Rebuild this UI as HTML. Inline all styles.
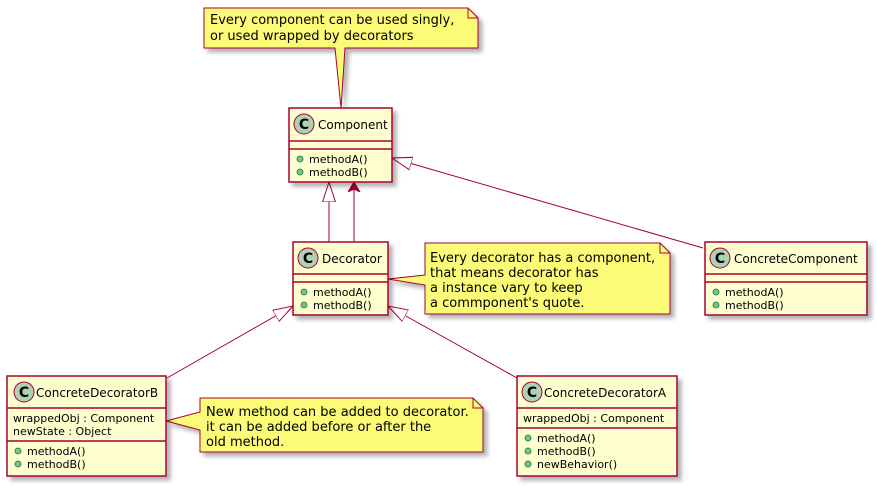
<!DOCTYPE html>
<html><head><meta charset="utf-8"><style>
html,body{margin:0;padding:0;background:#fff;}
svg{display:block;font-family:"DejaVu Sans","Liberation Sans",sans-serif;}
.n{font-size:12px;fill:#000}
.m{font-size:11px;fill:#000}
.t{font-size:13px;fill:#000}
</style></head><body>
<svg width="877" height="486" viewBox="0 0 877 486" xmlns="http://www.w3.org/2000/svg">
<defs>
<filter id="sh" x="-10%" y="-10%" width="130%" height="130%"><feGaussianBlur in="SourceAlpha" stdDeviation="2"/><feOffset dx="4" dy="4"/><feComponentTransfer><feFuncA type="linear" slope="0.3"/></feComponentTransfer><feMerge><feMergeNode/><feMergeNode in="SourceGraphic"/></feMerge></filter>
<marker id="tri" markerUnits="userSpaceOnUse" markerWidth="22" markerHeight="16" refX="20" refY="7" orient="auto"><path d="M0,0.5 L20,7 L0,13.5 Z" fill="#fff" stroke="#A80036" stroke-width="1"/></marker>
<marker id="arr" markerUnits="userSpaceOnUse" markerWidth="12" markerHeight="14" refX="10" refY="6" orient="auto"><path d="M0,0 L10,6 L0,12 L3,6 Z" fill="#A80036" stroke="#A80036"/></marker>
</defs>
<g stroke="#A80036" fill="none" stroke-width="1">
<line x1="329" y1="242" x2="329" y2="182" marker-end="url(#tri)"/>
<line x1="354" y1="242" x2="354" y2="182" marker-end="url(#arr)"/>
<line x1="703" y1="248" x2="392" y2="158" marker-end="url(#tri)"/>
<line x1="167" y1="378" x2="293" y2="306" marker-end="url(#tri)"/>
<line x1="517" y1="378" x2="388" y2="306" marker-end="url(#tri)"/>
</g>
<!-- notes -->
<g fill="#FBFB77" stroke="#A80036" stroke-width="1" filter="url(#sh)">
<path d="M204,8 L468,8 L478,18 L478,48 L345,48 L341,108 L335,48 L204,48 Z"/>
<path d="M425,243 L660,243 L670,253 L670,314 L425,314 L425,285 L388,279 L425,275 Z"/>
<path d="M200,398 L473,398 L483,408 L483,452 L200,452 L200,430 L166,421 L200,412 Z"/>
</g>
<g fill="none" stroke="#A80036"><path d="M468,8 L468,18 L478,18"/><path d="M660,243 L660,253 L670,253"/><path d="M473,398 L473,408 L483,408"/></g>
<text class="t" x="210" y="24">Every component can be used singly,</text>
<text class="t" x="210" y="40">or used wrapped by decorators</text>
<text class="t" x="430" y="262">Every decorator has a component,</text>
<text class="t" x="430" y="277">that means decorator has</text>
<text class="t" x="430" y="292">a instance vary to keep</text>
<text class="t" x="430" y="307">a commponent's quote.</text>
<text class="t" x="206" y="416">New method can be added to decorator.</text>
<text class="t" x="206" y="431">it can be added before or after the</text>
<text class="t" x="206" y="446">old method.</text>
<!-- classes -->
<g fill="#FEFECE" stroke="#A80036" stroke-width="1.5" filter="url(#sh)">
<rect x="289" y="108" width="103" height="74"/>
<rect x="293" y="242" width="95" height="73"/>
<rect x="705" y="242" width="162" height="73"/>
<rect x="7" y="376" width="159" height="100"/>
<rect x="517" y="376" width="160" height="100"/>
</g>
<g stroke="#A80036" stroke-width="1.5">
<line x1="289" y1="141" x2="392" y2="141"/><line x1="289" y1="149" x2="392" y2="149"/>
<line x1="293" y1="274" x2="388" y2="274"/><line x1="293" y1="282" x2="388" y2="282"/>
<line x1="705" y1="274" x2="867" y2="274"/><line x1="705" y1="282" x2="867" y2="282"/>
<line x1="7" y1="408" x2="166" y2="408"/><line x1="7" y1="441" x2="166" y2="441"/>
<line x1="517" y1="408" x2="677" y2="408"/><line x1="517" y1="428" x2="677" y2="428"/>
</g>
<g fill="#ADD1B2" stroke="#A80036" stroke-width="1">
<circle cx="304" cy="124" r="10"/><circle cx="308" cy="258" r="10"/><circle cx="720" cy="258" r="10"/>
<circle cx="24" cy="392" r="10"/><circle cx="532" cy="392" r="10"/>
</g>
<g font-size="14" font-weight="bold" text-anchor="middle" fill="#000">
<text x="304" y="129">C</text><text x="308" y="263">C</text><text x="720" y="263">C</text><text x="24" y="397">C</text><text x="532" y="397">C</text>
</g>
<text class="n" x="318" y="129">Component</text>
<text class="n" x="322" y="263">Decorator</text>
<text class="n" x="734" y="263">ConcreteComponent</text>
<text class="n" x="36" y="397">ConcreteDecoratorB</text>
<text class="n" x="544" y="397">ConcreteDecoratorA</text>
<g fill="#84BE84" stroke="#038048" stroke-width="0.8">
<circle cx="300" cy="159" r="3"/><circle cx="300" cy="172" r="3"/>
<circle cx="304" cy="292" r="3"/><circle cx="304" cy="305" r="3"/>
<circle cx="716" cy="292" r="3"/><circle cx="716" cy="305" r="3"/>
<circle cx="18" cy="451" r="3"/><circle cx="18" cy="464" r="3"/>
<circle cx="528" cy="438" r="3"/><circle cx="528" cy="451" r="3"/><circle cx="528" cy="464" r="3"/>
</g>
<text class="m" x="309" y="163">methodA()</text><text class="m" x="309" y="176">methodB()</text>
<text class="m" x="313" y="296">methodA()</text><text class="m" x="313" y="309">methodB()</text>
<text class="m" x="725" y="296">methodA()</text><text class="m" x="725" y="309">methodB()</text>
<text class="m" x="13" y="422">wrappedObj : Component</text><text class="m" x="13" y="435">newState : Object</text>
<text class="m" x="27" y="455">methodA()</text><text class="m" x="27" y="468">methodB()</text>
<text class="m" x="523" y="422">wrappedObj : Component</text>
<text class="m" x="537" y="442">methodA()</text><text class="m" x="537" y="455">methodB()</text><text class="m" x="537" y="468">newBehavior()</text>
</svg>
</body></html>
